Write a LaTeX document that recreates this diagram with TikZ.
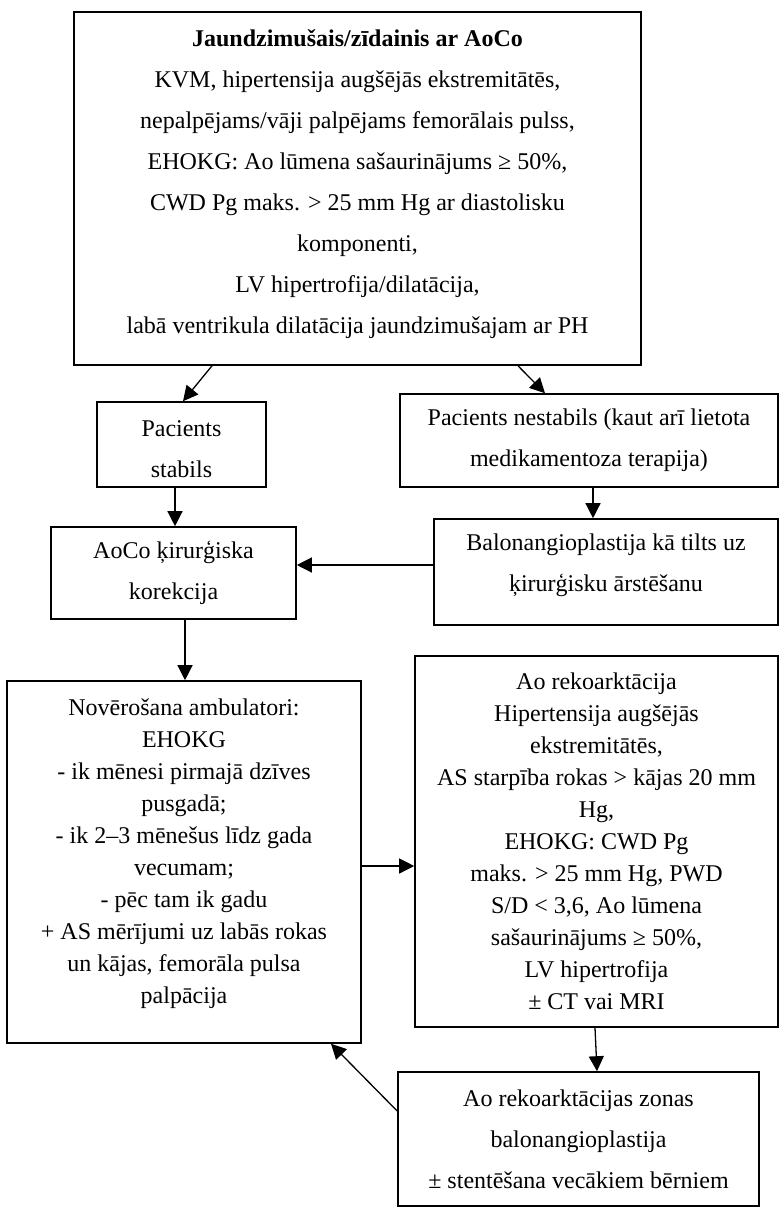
\documentclass[tikz,border=0pt]{standalone}
\usepackage{fontspec}
\setmainfont{Liberation Serif}
\usetikzlibrary{arrows.meta}
\newcommand{\lastdepth}[1]{\rule[-#1]{0pt}{#1}}
\newcommand{\firstheight}[1]{\rule{0pt}{#1}}

\begin{document}
\begin{tikzpicture}
	[x=1pt, y=-1pt, line width=1.3pt, >={Triangle[length=15pt,width=15pt]},
	main/.style = {draw, line width=1.6pt, align=center, font=\fontsize{24}{41}\selectfont},
	dense/.style = {main, font=\fontsize{24}{32}\selectfont}]
	\useasboundingbox (0,0) rectangle (779,1208);
	\node[main, minimum width=567pt, minimum height=353pt] (1) at (357.5,188.5) {\textbf{Jaundzimušais/zīdainis ar AoCo}\\
		KVM, hipertensija augšējās ekstremitātēs,\\
		nepalpējams/vāji palpējams femorālais pulss,\\
		EHOKG: Ao lūmena sašaurinājums ≥ 50\%,\\
		CWD Pg maks. > 25 mm Hg ar diastolisku\\
		komponenti,\\
		LV hipertrofija/dilatācija,\\
		labā ventrikula dilatācija jaundzimušajam ar PH\lastdepth{14pt}};
	\node[main, minimum width=169pt, minimum height=85pt] (2) at (181.5,444.5) {\firstheight{25pt}Pacients\\ stabils};
	\node[main, minimum width=378pt, minimum height=93pt] (3) at (589,440.5) {Pacients nestabils (kaut arī lietota\\ medikamentoza terapija)};
	\node[main, minimum width=245pt, minimum height=92pt] (4) at (173.5,573) {AoCo ķirurģiska\\ korekcija};
	\node[main, minimum width=344pt, minimum height=106pt] (5) at (606,572) {Balonangioplastija kā tilts uz\\ ķirurģisku ārstēšanu\lastdepth{18pt}};
	\node[dense, minimum width=354pt, minimum height=362pt] (6) at (184,862) {Novērošana ambulatori:\\
		EHOKG\\
		- ik mēnesi pirmajā dzīves\\
		pusgadā;\\
		- ik 2–3 mēnešus līdz gada\\
		vecumam;\\
		- pēc tam ik gadu\\
		+ AS mērījumi uz labās rokas\\
		un kājas, femorāla pulsa\\
		palpācija\lastdepth{21pt}};
	\node[dense, minimum width=363pt, minimum height=371pt] (7) at (596.5,841.5) {Ao rekoarktācija\\
		Hipertensija augšējās\\
		ekstremitātēs,\\
		AS starpība rokas > kājas 20 mm\\
		Hg,\\
		EHOKG: CWD Pg\\
		maks. > 25 mm Hg, PWD\\
		S/D < 3,6, Ao lūmena\\
		sašaurinājums ≥ 50\%,\\
		LV hipertrofija\\
		± CT vai MRI};
	\node[main, minimum width=361pt, minimum height=134pt] (8) at (578.5,1139) {Ao rekoarktācijas zonas\\ balonangioplastija\\ ± stentēšana vecākiem bērniem};
	\draw[->] ([xshift=-145.5pt]1.south) -- ([xshift=1.5pt]2.north);
	\draw[->] ([xshift=160.5pt]1.south) -- ([xshift=-44pt]3.north);
	\draw[->] ([xshift=-6.5pt]2.south) -- ([xshift=1.5pt]4.north);
	\draw[->] ([xshift=4pt]3.south) -- ([xshift=-13pt]5.north);
	\draw[->] ([yshift=7pt]5.west) -- ([yshift=7pt]5.west -| 4.east);
	\draw[->] ([xshift=11.5pt]4.south) -- ([xshift=1pt]6.north);
	\draw[->] ([yshift=-4pt]6.east) -- ([yshift=-4pt]6.east -| 7.west);
	\draw[->] ([xshift=-1.5pt]7.south) -- ([xshift=18.5pt]8.north);
	\draw[->] ([yshift=28pt]8.west) -- ([xshift=147pt]6.south);
\end{tikzpicture}
\end{document}
